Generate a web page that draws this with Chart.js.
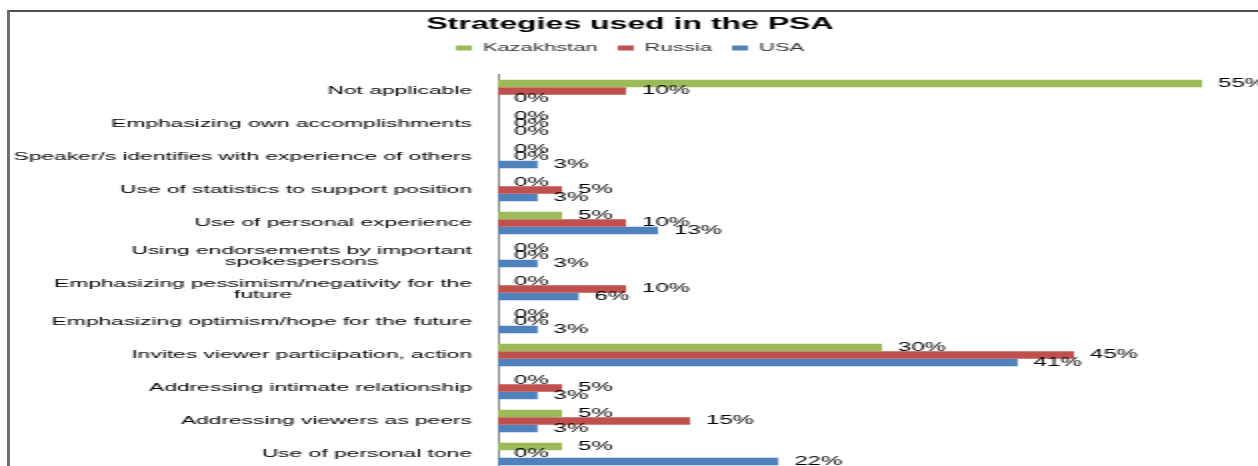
<!DOCTYPE html>
<html>
<head>
<meta charset="utf-8">
<script src="https://cdn.jsdelivr.net/npm/chart.js@4"></script>
<style>
    html, body { margin: 0; padding: 0; background: #fff; overflow: hidden; }
    #frame {
        position: absolute;
        left: 7px;
        top: 10px;
        border-top: 2px solid #505050;
        border-left: 3px solid #707070;
    }
    #grafico { display: block; }
</style>
</head>
<body>
<div id="frame">
    <!-- drawn at half width and stretched, like the original picture -->
    <canvas id="grafico" width="640" height="470" style="width:1280px;height:470px"></canvas>
</div>
<script>
const categorias = [
    "Not applicable",
    "Emphasizing own accomplishments",
    "Speaker/s identifies with experience of others",
    "Use of statistics to support position",
    "Use of personal experience",
    ["Using endorsements by important", "spokespersons"],
    ["Emphasizing pessimism/negativity for the", "future"],
    "Emphasizing optimism/hope for the future",
    "Invites viewer participation, action",
    "Addressing intimate relationship",
    "Addressing viewers as peers",
    "Use of personal tone"
];

const kazakhstan = [55, 0, 0, 0, 5, 0, 0, 0, 30, 0, 5, 5];
const russia = [10, 0, 0, 5, 10, 0, 10, 0, 45, 5, 15, 0];
const usa = [0, 0, 3.1, 3.1, 12.5, 3.1, 6.3, 3.1, 40.6, 3.1, 3.1, 21.9];

const fonte = '"Liberation Sans", Arial, sans-serif';
Chart.defaults.font.family = fonte;
Chart.defaults.color = '#000';

// extra space between the legend and the plot
const legendGap = {
    id: 'legendGap',
    beforeInit(chart) {
        const fitOriginal = chart.legend.fit;
        chart.legend.fit = function () {
            fitOriginal.call(this);
            this.height += 11;
        };
    }
};

// category names: block right aligned on the axis, wrapped lines centred
const rotulosEixo = {
    id: 'rotulosEixo',
    afterDraw(chart) {
        const ctx = chart.ctx;
        const eixo = chart.scales.y;
        const direita = chart.chartArea.left - 13;
        ctx.save();
        ctx.font = '11.4px ' + fonte;
        ctx.fillStyle = '#000';
        ctx.textAlign = 'center';
        ctx.textBaseline = 'middle';
        chart.data.labels.forEach((cat, i) => {
            const linhas = Array.isArray(cat) ? cat : [cat];
            const largura = Math.max(...linhas.map(l => ctx.measureText(l).width));
            const meio = eixo.getPixelForValue(i);
            linhas.forEach((l, k) => {
                ctx.fillText(l, direita - largura / 2, meio + (k - (linhas.length - 1) / 2) * 11);
            });
        });
        ctx.restore();
    }
};

// percentage labels at the end of each bar
const rotulos = {
    id: 'rotulos',
    afterDatasetsDraw(chart) {
        const ctx = chart.ctx;
        ctx.save();
        ctx.font = '12px ' + fonte;
        ctx.fillStyle = '#000';
        ctx.textAlign = 'left';
        ctx.textBaseline = 'middle';
        chart.data.datasets.forEach((ds, i) => {
            chart.getDatasetMeta(i).data.forEach((bar, j) => {
                ctx.fillText(Math.round(ds.data[j]) + '%', bar.x + 8, bar.y);
            });
        });
        ctx.restore();
    }
};

new Chart(document.getElementById("grafico"), {
    type: 'bar',
    data: {
        labels: categorias,
        datasets: [
            { label: 'Kazakhstan', data: kazakhstan, backgroundColor: '#9BBB59' },
            { label: 'Russia', data: russia, backgroundColor: '#C0504D' },
            { label: 'USA', data: usa, backgroundColor: '#4F81BD' }
        ]
    },
    options: {
        indexAxis: 'y',
        responsive: false,
        animation: false,
        categoryPercentage: 0.68,
        barPercentage: 1,
        layout: { padding: { left: 4.8, right: 24.8, top: 0, bottom: 11.5 } },
        scales: {
            x: { display: false, min: 0, max: 58 },
            y: {
                grid: { display: false },
                border: { display: true, color: '#868686', width: 1 },
                ticks: { display: false },
                afterFit: function (scale) { scale.width = 239.2; }
            }
        },
        plugins: {
            title: {
                display: true,
                text: 'Strategies used in the PSA',
                font: { size: 16, weight: 'bold', lineHeight: 1 },
                padding: { top: 4.5, bottom: 0 },
                color: '#000'
            },
            legend: {
                position: 'top',
                labels: { boxWidth: 8, boxHeight: 5, padding: 10, font: { size: 11 }, color: '#333' }
            },
            tooltip: { enabled: false }
        }
    },
    plugins: [legendGap, rotulosEixo, rotulos]
});
</script>
</body>
</html>
